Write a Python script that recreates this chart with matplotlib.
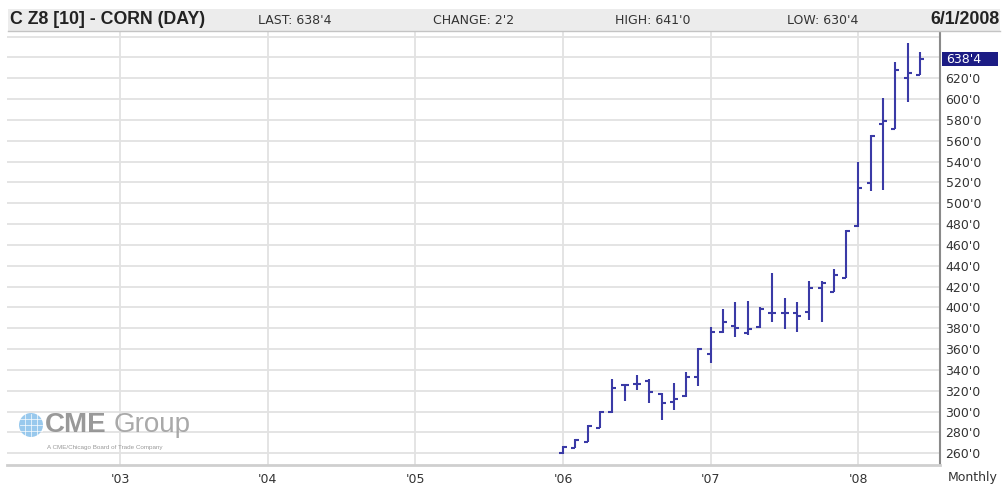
import numpy as np
import matplotlib.pyplot as plt
from matplotlib.patches import Rectangle, Ellipse
from matplotlib.transforms import blended_transform_factory

# monthly OHLC bars, Jan 2006 .. Jun 2008
years = [2006] * 12 + [2007] * 12 + [2008] * 6
months = list(range(1, 13)) * 2 + list(range(1, 7))
opens = [260, 265.4, 271.2, 284.6, 299.4, 325.6, 326.2, 329.7, 317, 309, 315, 333.5,
         355, 376.2, 382.2, 375.2, 381, 394.4, 394.4, 394.4, 396, 418.4, 415.1, 428,
         478, 519.8, 575.8, 571.8, 620, 623]
highs = [267, 273.8, 287.2, 300.6, 331, 326.5, 335.2, 331, 317.6, 327.2, 338.3, 360.8,
         381.5, 398.2, 405.5, 406.5, 400.7, 433.4, 408.8, 405.5, 425.7, 425.7, 436.6, 474.4,
         540, 565.6, 601, 635.3, 653.6, 645]
lows = [259.5, 264.8, 270.6, 284, 298.4, 310.5, 320.8, 308, 292, 301.6, 313.8, 324.9,
        346.4, 375.2, 372, 373.6, 380, 386.4, 379, 376.7, 388, 386.4, 415.1, 428,
        477, 512.1, 512.8, 571.3, 597.5, 623]
closes = [266.4, 272.8, 286.6, 299.4, 322.4, 325.6, 326.2, 319.1, 308, 312, 333.5, 360,
          376, 386.4, 380, 379.3, 398.2, 394.4, 394.4, 391.8, 418.4, 423.2, 431.2, 473.5,
          514.4, 564.6, 579, 628, 625.4, 638.5]

year_ticks = [2003, 2004, 2005, 2006, 2007, 2008]
year_labels = ["'03", "'04", "'05", "'06", "'07", "'08"]
price_ticks = list(range(260, 640, 20))
price_labels = ["%d'0" % p for p in price_ticks]
last = 638.5
last_label = "638'4"

W, H = 1002, 488
fig = plt.figure(figsize=(W / 100, H / 100), dpi=100)


def fx(px):
    return px / W


def fy(py):
    return 1 - py / H


ax = fig.add_axes([fx(7), fy(465), fx(940) - fx(7), fy(31) - fy(465)])
ax.set_xlim(2002.235, 2008.552)
ax.set_ylim(248.8, 665.4)

# grid
for yv in range(260, 680, 20):
    ax.axhline(yv, color='#e2e2e2', lw=1.3, zorder=0)
for xv in year_ticks:
    ax.axvline(xv, color='#e2e2e2', lw=1.3, zorder=0)

# bars
x = np.array(years) + (np.array(months) - 1) / 12.0
tick = 0.027
col = '#3a3aa6'
ax.vlines(x, lows, highs, color=col, lw=1.5, zorder=3)
ax.hlines(opens, x - tick, x, color=col, lw=1.5, zorder=3)
ax.hlines(closes, x, x + tick, color=col, lw=1.5, zorder=3)

for s in ['top', 'left']:
    ax.spines[s].set_visible(False)
ax.spines['right'].set_color('#8a8a8a')
ax.spines['right'].set_linewidth(1.5)
ax.spines['bottom'].set_color('#cfcfcf')
ax.spines['bottom'].set_linewidth(2)

ax.yaxis.tick_right()
ax.set_yticks(price_ticks)
ax.set_yticklabels(price_labels)
ax.set_xticks(year_ticks)
ax.set_xticklabels(year_labels)
ax.tick_params(axis='both', length=0, labelsize=9, labelcolor='#333333')
ax.tick_params(axis='y', pad=4)
ax.tick_params(axis='x', pad=6)

# last price marker
tr = blended_transform_factory(fig.transFigure, ax.transData)
ax.add_patch(Rectangle((fx(942), last - 6.8), fx(998) - fx(942), 13.6, transform=tr,
                       fc='#1c1c84', ec='none', clip_on=False, zorder=6))
fig.text(fx(946), 0, last_label, transform=tr, fontsize=9, color='white',
         va='center', ha='left', zorder=7).set_y(last)

fig.text(fx(948), fy(478), 'Monthly', fontsize=9, color='#333333', va='center', ha='left')

# header band
fig.patches.append(Rectangle((fx(8), fy(31)), fx(992), fy(9) - fy(31),
                             transform=fig.transFigure, fc='#ececec', ec='none', zorder=0))
fig.add_artist(plt.Line2D([fx(8), fx(1000)], [fy(31), fy(31)], color='#c4c4c4', lw=1))
fig.text(fx(10), fy(20), 'C Z8 [10] - CORN (DAY)', family='Liberation Sans', weight='bold',
         fontsize=12.8, color='#222222', va='center')
for px, s in [(258, "LAST: 638'4"), (433, "CHANGE: 2'2"), (615, "HIGH: 641'0"), (787, "LOW: 630'4")]:
    fig.text(fx(px), fy(20), s, fontsize=9, color='#333333', va='center')
fig.text(fx(1000), fy(20), '6/1/2008', family='Liberation Sans', weight='bold',
         fontsize=12.8, color='#222222', va='center', ha='right')

# CME Group logo
cx, cy, r = 31, 425, 12
fig.patches.append(Ellipse((fx(cx), fy(cy)), 2 * r / W, 2 * r / H, transform=fig.transFigure,
                           fc='#8ec4ec', ec='none', alpha=0.9, zorder=5))
for k in (-6, 0, 6):
    fig.add_artist(plt.Line2D([fx(cx + k)] * 2, [fy(cy - 11), fy(cy + 11)], color='white',
                              lw=0.6, alpha=0.8, zorder=6))
    fig.add_artist(plt.Line2D([fx(cx - 11), fx(cx + 11)], [fy(cy + k)] * 2, color='white',
                              lw=0.6, alpha=0.8, zorder=6))
fig.text(fx(45), fy(425), 'CME', family='Liberation Sans', weight='bold', fontsize=20,
         color='#8e8e8e', va='center', alpha=0.9)
fig.text(fx(114), fy(425), 'Group', family='Liberation Sans', fontsize=20,
         color='#a0a0a0', va='center', alpha=0.9)
fig.text(fx(47), fy(447), 'A CME/Chicago Board of Trade Company', family='Liberation Sans',
         fontsize=4.5, color='#9a9a9a', va='center')

fig.savefig('out.png', dpi=100)
